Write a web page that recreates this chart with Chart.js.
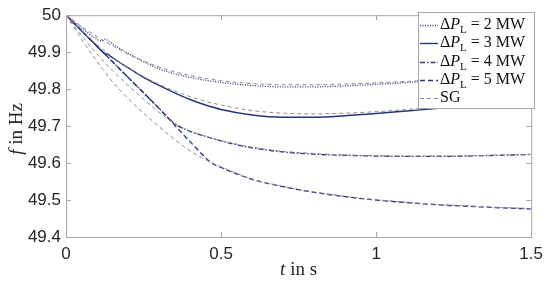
<!DOCTYPE html>
<html>
<head>
<meta charset="utf-8">
<script src="https://cdn.jsdelivr.net/npm/chart.js@4.4.1/dist/chart.umd.min.js"></script>
<style>
  body { margin: 0; background: #fff; }
  #wrap { width: 550px; height: 281px; position: relative; }
</style>
</head>
<body>
<div id="wrap"><canvas id="myChart"></canvas></div>
<script>
// time grid shared by the SG reference curves
var tSG = [0, 0.05, 0.1, 0.15, 0.2, 0.25, 0.3, 0.35, 0.4, 0.45, 0.5, 0.6, 0.7, 0.8, 0.9, 1.0, 1.1, 1.2, 1.3, 1.4, 1.5];
var fSG2 = [50, 49.97, 49.942, 49.917, 49.895, 49.876, 49.86, 49.847, 49.837, 49.829, 49.823, 49.815, 49.812, 49.812, 49.814, 49.817, 49.821, 49.825, 49.829, 49.833, 49.837];
var fSG3 = [50, 49.958, 49.92, 49.887, 49.858, 49.834, 49.813, 49.795, 49.78, 49.767, 49.757, 49.742, 49.735, 49.733, 49.735, 49.739, 49.745, 49.751, 49.757, 49.763, 49.769];
var fSG4 = [50, 49.945, 49.895, 49.85, 49.81, 49.773, 49.737, 49.707, 49.687, 49.673, 49.661, 49.643, 49.632, 49.626, 49.622, 49.62, 49.619, 49.619, 49.62, 49.622, 49.624];
var fSG5 = [50, 49.935, 49.875, 49.82, 49.775, 49.735, 49.699, 49.664, 49.633, 49.609, 49.59, 49.557, 49.537, 49.522, 49.51, 49.501, 49.494, 49.488, 49.484, 49.48, 49.477];

// ΔP_L curves (own time points, with the switching kinks)
var t2 = [0, 0.05, 0.1, 0.115, 0.125, 0.15, 0.2, 0.3, 0.4, 0.5, 0.6, 0.7, 0.8, 0.9, 1.0, 1.1, 1.2, 1.3, 1.4, 1.5];
var f2 = [50, 49.966, 49.935, 49.93, 49.935, 49.922, 49.897, 49.855, 49.832, 49.818, 49.81, 49.806, 49.806, 49.809, 49.813, 49.818, 49.823, 49.828, 49.833, 49.838];
var t3 = [0, 0.05, 0.1, 0.12, 0.135, 0.15, 0.2, 0.25, 0.3, 0.35, 0.4, 0.45, 0.5, 0.6, 0.7, 0.8, 0.9, 1.0, 1.1, 1.2, 1.3, 1.4, 1.5];
var f3 = [50, 49.958, 49.916, 49.899, 49.894, 49.885, 49.858, 49.832, 49.81, 49.79, 49.772, 49.757, 49.745, 49.73, 49.724, 49.724, 49.728, 49.734, 49.741, 49.748, 49.756, 49.763, 49.771];
var t4 = [0, 0.1, 0.2, 0.3, 0.35, 0.4, 0.45, 0.5, 0.6, 0.7, 0.8, 0.9, 1.0, 1.1, 1.2, 1.3, 1.4, 1.5];
var f4 = [50, 49.916, 49.832, 49.748, 49.707, 49.686, 49.672, 49.66, 49.641, 49.63, 49.624, 49.621, 49.619, 49.618, 49.618, 49.619, 49.621, 49.623];
var t5 = [0, 0.1, 0.2, 0.3, 0.4, 0.47, 0.5, 0.6, 0.7, 0.8, 0.9, 1.0, 1.1, 1.2, 1.3, 1.4, 1.5];
var f5 = [50, 49.916, 49.832, 49.748, 49.658, 49.6, 49.588, 49.556, 49.536, 49.521, 49.509, 49.5, 49.493, 49.487, 49.483, 49.479, 49.476];

var legendMW = ['2', '3', '4', '5'];
var xTicks = [0, 0.5, 1, 1.5];

var blue = '#28347a';
var grey = '#8e8e8e';

function pts(t, f) {
    return t.map(function (v, i) { return { x: v, y: f[i] }; });
}

var sgStyle = { borderColor: grey, borderWidth: 1, borderDash: [4, 3] };
var dashes = [[1, 1.5], [], [5, 2, 1.5, 2], [5, 3]];
var widths = [1.3, 1.4, 1.3, 1.3];

var datasets = [];
[fSG2, fSG3, fSG4, fSG5].forEach(function (f) {
    datasets.push(Object.assign({ label: 'SG', data: pts(tSG, f) }, sgStyle));
});
[[t2, f2], [t3, f3], [t4, f4], [t5, f5]].forEach(function (s, i) {
    datasets.push({
        label: legendMW[i],
        data: pts(s[0], s[1]),
        borderColor: blue,
        borderWidth: widths[i],
        borderDash: dashes[i]
    });
});

var boxPlugin = {
    id: 'box',
    afterDraw: function (chart) {
        var c = chart.ctx, a = chart.chartArea;
        var xs = chart.scales.x, ys = chart.scales.y;
        c.save();
        c.strokeStyle = '#a6a6a6';
        c.lineWidth = 1;
        c.setLineDash([]);
        c.strokeRect(a.left + 0.5, a.top + 0.5, a.right - a.left, a.bottom - a.top);
        // inward ticks
        c.beginPath();
        xTicks.forEach(function (v) {
            var px = Math.round(xs.getPixelForValue(v)) + 0.5;
            c.moveTo(px, a.bottom); c.lineTo(px, a.bottom - 5);
            c.moveTo(px, a.top); c.lineTo(px, a.top + 5);
        });
        ys.ticks.forEach(function (t) {
            var py = Math.round(ys.getPixelForValue(t.value)) + 0.5;
            c.moveTo(a.left, py); c.lineTo(a.left + 5, py);
            c.moveTo(a.right, py); c.lineTo(a.right - 5, py);
        });
        c.stroke();

        // axis titles
        c.fillStyle = '#262626';
        c.textBaseline = 'middle';
        c.font = 'italic 19px "Liberation Serif"';
        var w1 = c.measureText('t').width;
        c.font = '19px "Liberation Serif"';
        var w2 = c.measureText(' in s').width;
        var cx = (a.left + a.right) / 2 - (w1 + w2) / 2;
        c.textAlign = 'left';
        c.font = 'italic 19px "Liberation Serif"';
        c.fillText('t', cx, 270);
        c.font = '19px "Liberation Serif"';
        c.fillText(' in s', cx + w1, 270);

        c.save();
        c.translate(17, 129);
        c.rotate(-Math.PI / 2);
        c.font = 'italic 19px "Liberation Serif"';
        w1 = c.measureText('f').width;
        c.font = '19px "Liberation Serif"';
        w2 = c.measureText(' in Hz').width;
        cx = -(w1 + w2) / 2;
        c.font = 'italic 19px "Liberation Serif"';
        c.fillText('f', cx, 0);
        c.font = '19px "Liberation Serif"';
        c.fillText(' in Hz', cx + w1, 0);
        c.restore();

        // legend
        var lx = 418, ly = 12, lw = 116, lh = 96;
        c.fillStyle = '#fff';
        c.fillRect(lx, ly, lw, lh);
        c.strokeStyle = '#a6a6a6';
        c.strokeRect(lx + 0.5, ly + 0.5, lw, lh);
        var rowY = [25, 43, 62, 80, 98];
        var items = [4, 5, 6, 7, 0];
        items.forEach(function (di, k) {
            var ds = chart.data.datasets[di];
            var y = rowY[k] + 0.5;
            c.beginPath();
            c.strokeStyle = ds.borderColor;
            c.lineWidth = ds.borderWidth;
            c.setLineDash(ds.borderDash || []);
            c.moveTo(420, y); c.lineTo(438, y);
            c.stroke();
            c.setLineDash([]);
            c.fillStyle = '#111';
            c.textAlign = 'left';
            c.textBaseline = 'middle';
            var x = 440;
            if (ds.label === 'SG') {
                c.font = '16px "Liberation Serif"';
                c.fillText('SG', x, rowY[k]);
                return;
            }
            c.font = '16px "Liberation Serif"';
            c.fillText('\u0394', x, rowY[k]);
            x += c.measureText('\u0394').width;
            c.font = 'italic 16px "Liberation Serif"';
            c.fillText('P', x, rowY[k]);
            x += c.measureText('P').width;
            c.font = '11px "Liberation Serif"';
            c.fillText('L', x, rowY[k] + 5);
            x += c.measureText('L').width;
            c.font = '16px "Liberation Serif"';
            c.fillText(' = ' + ds.label + ' MW', x, rowY[k]);
        });
        c.restore();
    }
};

var ctx = document.getElementById('myChart');
var myChart = new Chart(ctx, {
    type: 'line',
    data: { datasets: datasets },
    options: {
        responsive: true,
        maintainAspectRatio: false,
        animation: false,
        layout: { padding: { left: 0, right: 15, top: 11, bottom: 0 } },
        elements: {
            point: { radius: 0 },
            line: { cubicInterpolationMode: 'monotone', fill: false }
        },
        plugins: { legend: { display: false }, tooltip: { enabled: false } },
        scales: {
            x: {
                type: 'linear', min: 0, max: 1.5,
                afterBuildTicks: function (s) { s.ticks = xTicks.map(function (v) { return { value: v }; }); },
                afterFit: function (s) { s.height = 44; },
                grid: { display: false, drawTicks: false },
                border: { display: false },
                ticks: {
                    padding: 7, color: '#262626',
                    font: { family: '"Liberation Sans"', size: 17 },
                    callback: function (v) { return String(v); }
                }
            },
            y: {
                min: 49.4, max: 50,
                afterFit: function (s) { s.width = 66; },
                grid: { display: false, drawTicks: false },
                border: { display: false },
                ticks: {
                    stepSize: 0.1, padding: 5, color: '#262626',
                    font: { family: '"Liberation Sans"', size: 17 },
                    callback: function (v) { return Number(v.toFixed(1)).toString(); }
                }
            }
        }
    },
    plugins: [boxPlugin]
});
</script>
</body>
</html>
